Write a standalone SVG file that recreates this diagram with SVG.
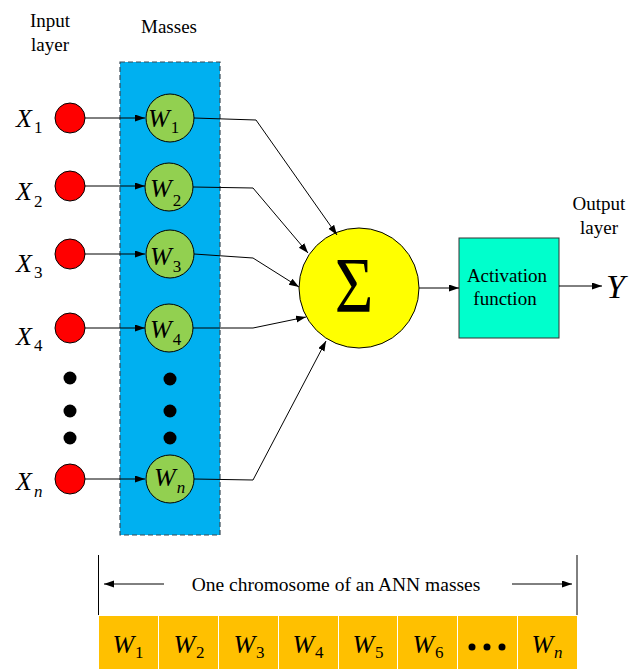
<svg xmlns="http://www.w3.org/2000/svg" width="638" height="669" viewBox="0 0 638 669" font-family="'Liberation Serif', 'DejaVu Serif', serif">
  <defs>
    <marker id="arrow" markerUnits="userSpaceOnUse" markerWidth="11" markerHeight="8" refX="10" refY="3.5" orient="auto">
      <path d="M0,0 L10,3.5 L0,7 z" fill="#000"/>
    </marker>
    <style>
      text { font-family: 'Liberation Serif', 'DejaVu Serif', serif; fill: #000; }
      .lbl { font-size: 19px; text-anchor: middle; }
      .var { font-size: 26px; font-style: italic; }
      .sub { font-size: 17px; font-style: normal; }
      .subi { font-size: 17px; font-style: italic; }
      .input { fill: #FF0000; stroke: #000; stroke-width: 1; }
      .weight { fill: #92D050; stroke: #000; stroke-width: 1; }
      .dot { fill: #000; }
      .conn { fill: none; stroke: #000; stroke-width: 1; }
      .gene { fill: #FFC000; }
    </style>
  </defs>

  <rect width="638" height="669" fill="#fff"/>

  <!-- headings -->
  <g id="headings">
    <text class="lbl" x="50" y="27">Input</text>
    <text class="lbl" x="50" y="51">layer</text>
    <text class="lbl" x="169" y="33">Masses</text>
    <text class="lbl" x="599" y="210">Output</text>
    <text class="lbl" x="599" y="234">layer</text>
  </g>

  <!-- panel holding the weights -->
  <g id="mass-panel">
    <rect x="120" y="62" width="100" height="473" fill="#00B0F0" stroke="#3A4A55" stroke-width="1.2" stroke-dasharray="5,3"/>
  </g>

  <!-- input neurons -->
  <g id="input-x1">
    <circle class="input" cx="70" cy="118" r="15"/>
    <text class="var" x="16" y="127">X<tspan class="sub" dx="2" dy="6">1</tspan></text>
  </g>
  <g id="input-x2">
    <circle class="input" cx="70" cy="186" r="15"/>
    <text class="var" x="16" y="200">X<tspan class="sub" dx="2" dy="7">2</tspan></text>
  </g>
  <g id="input-x3">
    <circle class="input" cx="70" cy="254" r="15"/>
    <text class="var" x="16" y="272">X<tspan class="sub" dx="2" dy="6">3</tspan></text>
  </g>
  <g id="input-x4">
    <circle class="input" cx="70" cy="328" r="15"/>
    <text class="var" x="16" y="345">X<tspan class="sub" dx="2" dy="6">4</tspan></text>
  </g>
  <g id="input-ellipsis">
    <circle class="dot" cx="70" cy="378" r="6.5"/>
    <circle class="dot" cx="70" cy="411" r="6.5"/>
    <circle class="dot" cx="70" cy="438" r="6.5"/>
  </g>
  <g id="input-xn">
    <circle class="input" cx="70" cy="479" r="15"/>
    <text class="var" x="16" y="490">X<tspan class="subi" dx="2" dy="7">n</tspan></text>
  </g>

  <!-- weight nodes -->
  <g id="weight-w1">
    <circle class="weight" cx="170" cy="118" r="24"/>
    <text class="var" x="148" y="127">W<tspan class="sub" dx="1" dy="6">1</tspan></text>
  </g>
  <g id="weight-w2">
    <circle class="weight" cx="169" cy="187" r="24"/>
    <text class="var" x="150" y="197">W<tspan class="sub" dx="1" dy="9">2</tspan></text>
  </g>
  <g id="weight-w3">
    <circle class="weight" cx="170" cy="254" r="24"/>
    <text class="var" x="150" y="265">W<tspan class="sub" dx="1" dy="7">3</tspan></text>
  </g>
  <g id="weight-w4">
    <circle class="weight" cx="169" cy="328" r="24"/>
    <text class="var" x="150" y="338">W<tspan class="sub" dx="1" dy="7">4</tspan></text>
  </g>
  <g id="weight-ellipsis">
    <circle class="dot" cx="170" cy="379" r="6.5"/>
    <circle class="dot" cx="170" cy="411" r="6.5"/>
    <circle class="dot" cx="170" cy="438" r="6.5"/>
  </g>
  <g id="weight-wn">
    <circle class="weight" cx="170" cy="479" r="24"/>
    <text class="var" x="154" y="486">W<tspan class="subi" dx="1" dy="7">n</tspan></text>
  </g>

  <!-- summation node -->
  <g id="sum">
    <circle cx="359" cy="288" r="60" fill="#FFFF00" stroke="#000" stroke-width="1"/>
    <text transform="translate(354,311) scale(0.85,1)" font-size="78" text-anchor="middle">Σ</text>
  </g>

  <!-- activation block -->
  <g id="activation">
    <rect x="459" y="238" width="100" height="100" fill="#00FFCC" stroke="#333" stroke-width="1"/>
    <text class="lbl" x="507" y="282">Activation</text>
    <text class="lbl" x="505" y="305">function</text>
  </g>

  <!-- output -->
  <g id="output-y">
    <text x="606" y="298" font-size="34" font-style="italic">Y</text>
  </g>

  <!-- connectors -->
  <g id="connectors">
    <line class="conn" x1="85" y1="118" x2="145" y2="118" marker-end="url(#arrow)"/>
    <line class="conn" x1="85" y1="186" x2="145" y2="186" marker-end="url(#arrow)"/>
    <line class="conn" x1="85" y1="254" x2="145" y2="254" marker-end="url(#arrow)"/>
    <line class="conn" x1="85" y1="328" x2="145" y2="328" marker-end="url(#arrow)"/>
    <line class="conn" x1="85" y1="479" x2="145" y2="479" marker-end="url(#arrow)"/>

    <polyline class="conn" points="194,118 256,120 337,235" marker-end="url(#arrow)"/>
    <polyline class="conn" points="193,187 253,188 308,253" marker-end="url(#arrow)"/>
    <polyline class="conn" points="194,254 253,258 299,287" marker-end="url(#arrow)"/>
    <polyline class="conn" points="193,328 253,328 306,317" marker-end="url(#arrow)"/>
    <polyline class="conn" points="194,479 253,480 326,341" marker-end="url(#arrow)"/>

    <line class="conn" x1="419" y1="288" x2="459" y2="288" marker-end="url(#arrow)"/>
    <line class="conn" x1="559" y1="286" x2="602" y2="286" marker-end="url(#arrow)"/>
  </g>

  <!-- chromosome encoding of the weights -->
  <g id="chromosome">
    <line class="conn" x1="98.5" y1="555" x2="98.5" y2="615"/>
    <line class="conn" x1="577" y1="555" x2="577" y2="615"/>
    <line class="conn" x1="164" y1="584" x2="104" y2="584" marker-end="url(#arrow)"/>
    <line class="conn" x1="512" y1="584" x2="572" y2="584" marker-end="url(#arrow)"/>
    <text x="336" y="591" font-size="19.5" text-anchor="middle">One chromosome of an ANN masses</text>

    <rect class="gene" x="99" y="616" width="59" height="53"/>
    <rect class="gene" x="159" y="616" width="59" height="53"/>
    <rect class="gene" x="219" y="616" width="59" height="53"/>
    <rect class="gene" x="279" y="616" width="59" height="53"/>
    <rect class="gene" x="339" y="616" width="58" height="53"/>
    <rect class="gene" x="398" y="616" width="59" height="53"/>
    <rect class="gene" x="458" y="616" width="59" height="53"/>
    <rect class="gene" x="518" y="616" width="59" height="53"/>

    <text class="var" x="128" y="653" text-anchor="middle">W<tspan class="sub" dx="1" dy="5">1</tspan></text>
    <text class="var" x="189" y="653" text-anchor="middle">W<tspan class="sub" dx="1" dy="5">2</tspan></text>
    <text class="var" x="249" y="653" text-anchor="middle">W<tspan class="sub" dx="1" dy="5">3</tspan></text>
    <text class="var" x="308" y="653" text-anchor="middle">W<tspan class="sub" dx="1" dy="5">4</tspan></text>
    <text class="var" x="368" y="653" text-anchor="middle">W<tspan class="sub" dx="1" dy="5">5</tspan></text>
    <text class="var" x="428" y="653" text-anchor="middle">W<tspan class="sub" dx="1" dy="5">6</tspan></text>
    <circle class="dot" cx="472" cy="647" r="3.5"/>
    <circle class="dot" cx="487" cy="647" r="3.5"/>
    <circle class="dot" cx="502" cy="647" r="3.5"/>
    <text class="var" x="547" y="653" text-anchor="middle">W<tspan class="subi" dx="1" dy="5">n</tspan></text>
  </g>
</svg>
